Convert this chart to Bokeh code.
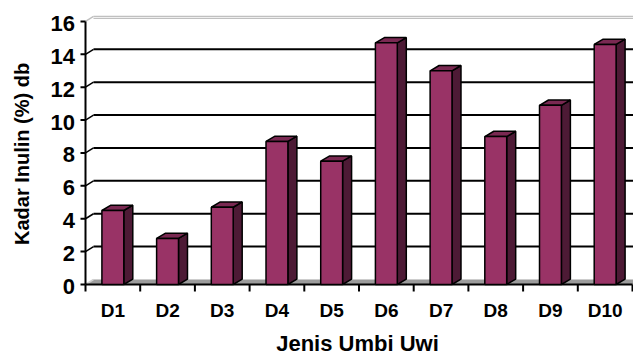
import math
from bokeh.plotting import figure
from bokeh.models import Range1d
from bokeh.core.properties import value
from bokeh.embed import file_html
from bokeh.resources import INLINE

# ---- data ----
categories = ["D1", "D2", "D3", "D4", "D5", "D6", "D7", "D8", "D9", "D10"]
values = [4.5, 2.8, 4.7, 8.7, 7.5, 14.7, 13.0, 9.0, 10.9, 14.6]
y_ticks = [0, 2, 4, 6, 8, 10, 12, 14, 16]
y_tick_labels = ["0", "2", "4", "6", "8", "10", "12", "14", "16"]
x_title = "Jenis Umbi Uwi"
y_title = "Kadar Inulin (%) db"

xpos = list(range(1, len(categories) + 1))

W, H = 633, 358
PPX, PPY = 54.7, 16.44          # pixels per data unit
X0 = 0.5 - 85 / PPX
X1 = X0 + W / PPX
Y1 = 284 / PPY
Y0 = Y1 - H / PPY

p = figure(width=W, height=H, output_backend="svg", toolbar_location=None,
           x_range=Range1d(X0, X1), y_range=Range1d(Y0, Y1),
           min_border_left=0, min_border_right=0, min_border_top=0, min_border_bottom=0)
p.outline_line_color = None
p.xgrid.visible = False
p.ygrid.visible = False
p.xaxis.visible = False
p.yaxis.visible = False
p.background_fill_color = "white"
p.border_fill_color = "white"

FONT = value("Liberation Sans")
# 3-D offsets (in data units)
dxb, dyb = 8 / PPX, 5 / PPY     # back wall offset
dxs, dys = 9 / PPX, 5.3 / PPY   # bar depth
bw = 0.4
xa = 0.5                         # front axis position
ymax = y_ticks[-1]
xend = len(categories) + 0.5

# floor
p.patch([xa, X1, X1, xa + dxb], [0, 0, dyb, dyb], fill_color="#9c9c9c", line_color=None)
p.segment(x0=[xa], y0=[0], x1=[xa + dxb], y1=[dyb], line_color="#d0d0d0", line_width=1.5)

# back gridlines
grid_v = [v for v in y_ticks if 0 < v < ymax]
p.segment(x0=[xa + dxb] * len(grid_v), y0=[v + dyb for v in grid_v],
          x1=[X1] * len(grid_v), y1=[v + dyb for v in grid_v],
          line_color="black", line_width=2)
p.segment(x0=[xa + dxb] * 2, y0=[ymax + dyb, ymax + dyb - 0.12],
          x1=[X1] * 2, y1=[ymax + dyb, ymax + dyb - 0.12],
          line_color="#c0c0c0", line_width=1.2)
# diagonal connectors
p.segment(x0=[xa] * len(grid_v), y0=grid_v, x1=[xa + dxb] * len(grid_v),
          y1=[v + dyb for v in grid_v], line_color="black", line_width=1.5)
p.segment(x0=[xa], y0=[ymax], x1=[xa + dxb], y1=[ymax + dyb],
          line_color="#c0c0c0", line_width=1.5)

# front axis and ticks
p.segment(x0=[xa], y0=[0], x1=[xa], y1=[ymax], line_color="black", line_width=2)
p.segment(x0=[xa - 5 / PPX] * len(y_ticks), y0=y_ticks, x1=[xa] * len(y_ticks), y1=y_ticks,
          line_color="black", line_width=2)
p.segment(x0=[xa], y0=[0], x1=[xend], y1=[0], line_color="black", line_width=2)
bt = [i + 0.5 for i in range(len(categories) + 1)]
p.segment(x0=bt, y0=[0] * len(bt), x1=bt, y1=[-7 / PPY] * len(bt), line_color="black", line_width=2)

# bars: side faces, top faces, front faces
side_xs = [[x + bw / 2, x + bw / 2 + dxs, x + bw / 2 + dxs, x + bw / 2] for x in xpos]
side_ys = [[0, dys, v + dys, v] for v in values]
p.patches(side_xs, side_ys, fill_color="#4d1a35", line_color="black", line_width=1.5)
top_xs = [[x - bw / 2, x + bw / 2, x + bw / 2 + dxs, x - bw / 2 + dxs] for x in xpos]
top_ys = [[v, v, v + dys, v + dys] for v in values]
p.patches(top_xs, top_ys, fill_color="#7a2952", line_color="black", line_width=1.5)
p.vbar(x=xpos, top=values, bottom=0, width=bw, fill_color="#993366",
       line_color="black", line_width=1.5)

# tick labels and titles (text glyphs)
p.text(x=[xa - 10.5 / PPX] * len(y_ticks), y=[v - 2 / PPY for v in y_ticks], text=y_tick_labels,
       text_font=FONT, text_font_style="bold", text_font_size=value("22px"),
       text_align="right", text_baseline="middle", text_color="black")
p.text(x=xpos, y=[-25.7 / PPY] * len(xpos), text=categories,
       text_font=FONT, text_font_style="bold", text_font_size=value("19px"),
       text_align="center", text_baseline="middle", text_color="black")
p.text(x=[X0 + 357 / PPX], y=[-59 / PPY], text=[x_title],
       text_font=FONT, text_font_style="bold", text_font_size=value("22px"),
       text_align="center", text_baseline="middle", text_color="black")
p.text(x=[X0 + 21 / PPX], y=[(284 - 153.4) / PPY], text=[y_title], angle=math.pi / 2,
       text_font=FONT, text_font_style="bold", text_font_size=value("20px"),
       text_align="center", text_baseline="middle", text_color="black")

open("out.html", "w").write(file_html(p, INLINE))
